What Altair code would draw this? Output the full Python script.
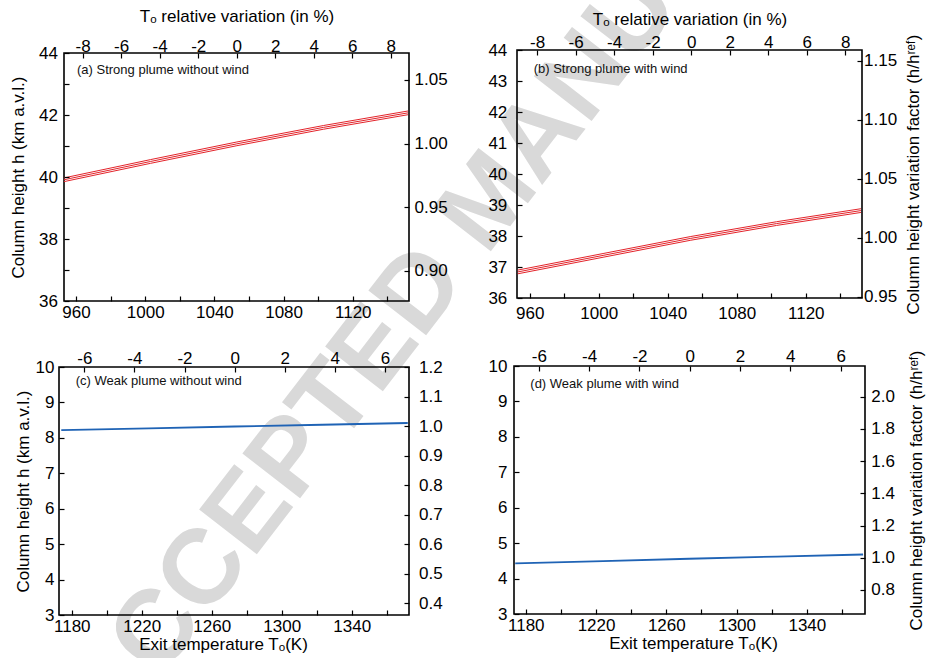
import altair as alt
import pandas as pd

FONT = "Liberation Sans"
RED = "#e3242b"
BLUE = "#1f63b5"
GREY = "#d9d9d9"
W, H = 926, 658

# exit temperatures T0 (K) at which the column height was computed
temp_strong = [953, 1003, 1053, 1103, 1152]
temp_weak = [1174, 1224, 1273, 1323, 1372]

# column height h (km a.v.l.); the strong plumes carry three runs each
h_strong_nowind = [
    [39.97, 40.56, 41.13, 41.66, 42.13],
    [39.91, 40.50, 41.07, 41.60, 42.07],
    [39.85, 40.44, 41.01, 41.54, 42.01],
]
h_strong_wind = [
    [36.90, 37.44, 37.98, 38.46, 38.88],
    [36.84, 37.38, 37.92, 38.40, 38.82],
    [36.78, 37.32, 37.86, 38.34, 38.76],
]
h_weak_nowind = [[8.22, 8.27, 8.32, 8.37, 8.42]]
h_weak_wind = [[4.43, 4.49, 4.56, 4.62, 4.68]]

# reference state behind the relative (top / right) axes
t_ref = {"a": 1053, "b": 1053, "c": 1273, "d": 1273}
h_ref = {"a": 41.1, "b": 37.95, "c": 8.33, "d": 4.55}

# axis extents
t_domain = {"a": [953.06, 1152.5], "b": [952.6, 1152.6], "c": [1172.7, 1372.7], "d": [1173.3, 1373.1]}
h_domain = {"a": [36, 44], "b": [36, 44], "c": [3, 10], "d": [3, 10]}
pct_domain = {"a": [-8.97, 8.95], "b": [-9.04, 8.87], "c": [-7.01, 6.96], "d": [-6.99, 6.97]}
ratio_domain = {"a": [0.8762, 1.0712], "b": [0.9489, 1.1593], "c": [0.3604, 1.2006], "d": [0.651, 2.1906]}

# tick values
t_ticks_strong = [960, 980, 1000, 1020, 1040, 1060, 1080, 1100, 1120, 1140]
t_ticks_weak = [1180, 1200, 1220, 1240, 1260, 1280, 1300, 1320, 1340, 1360]
h_ticks_strong = [36, 37, 38, 39, 40, 41, 42, 43, 44]
h_ticks_weak = [3, 4, 5, 6, 7, 8, 9, 10]
pct_ticks_strong = [-8, -6, -4, -2, 0, 2, 4, 6, 8]
pct_ticks_weak = [-6, -4, -2, 0, 2, 4, 6]
ratio_ticks = {
    "a": [0.90, 0.95, 1.00, 1.05],
    "b": [0.95, 1.00, 1.05, 1.10, 1.15],
    "c": [0.4, 0.5, 0.6, 0.7, 0.8, 0.9, 1.0, 1.1, 1.2],
    "d": [0.8, 1.0, 1.2, 1.4, 1.6, 1.8, 2.0],
}

captions = {
    "a": "(a) Strong plume without wind",
    "b": "(b) Strong plume with wind",
    "c": "(c) Weak plume without wind",
    "d": "(d) Weak plume with wind",
}
title_left = "Column height h (km a.v.l.)"
title_right = "Column height variation factor (h/h\u02b3\u1d49\u1da0)"
title_top = "T\u2092 relative variation (in %)"
title_bottom = "Exit temperature T\u2092(K)"
watermark_text = "ACCEPTED MANUSCRIPT"

# pixel frame of every panel and the spacing of its labels / titles
layout = {
    "a": dict(l=64, r=409, t=53, b=301, lp_l=6.5, lp_r=5, lp_t=-2, lp_b=3.2,
              tl=(30, 12), tr=(42, 6), tt=(20, 12.6), tb=(24, 2.5), cap=(77, 70.4)),
    "b": dict(l=517, r=862, t=50, b=298, lp_l=10.2, lp_r=1.5, lp_t=-1, lp_b=7.9,
              tl=(30, 12), tr=(42, 6.5), tt=(20, 6.3), tb=(24, 2.5), cap=(533.7, 69.4)),
    "c": dict(l=59, r=409, t=367, b=615, lp_l=5, lp_r=9.5, lp_t=0, lp_b=3.5,
              tl=(28, 4), tr=(42, 6), tt=(20, 6), tb=(24, 2.5), cap=(75.7, 381.4), tbx=223),
    "d": dict(l=514, r=865, t=366, b=614, lp_l=7, lp_r=5.8, lp_t=0.3, lp_b=3.5,
              tl=(30, 4), tr=(42, 6.2), tt=(20, 6), tb=(24, 2.9), cap=(530.3, 384), tbx=693),
}

panels = {
    "a": dict(runs=h_strong_nowind, temps=temp_strong, colour=RED, sw=1.0,
              left=True, right=False, top=True, bottom=False),
    "b": dict(runs=h_strong_wind, temps=temp_strong, colour=RED, sw=1.0,
              left=False, right=True, top=True, bottom=False),
    "c": dict(runs=h_weak_nowind, temps=temp_weak, colour=BLUE, sw=1.8,
              left=True, right=False, top=False, bottom=True),
    "d": dict(runs=h_weak_wind, temps=temp_weak, colour=BLUE, sw=1.8,
              left=False, right=True, top=False, bottom=True),
}


def axis(**kw):
    base = dict(grid=False, domain=False, tickSize=5, tickWidth=1.2, tickColor="black",
                labelFont=FONT, labelFontSize=17, labelColor="black", labelFlush=False,
                labelOverlap=False, labelBound=False, titleFont=FONT, titleFontSize=17,
                titleFontWeight="normal", titleColor="black", zindex=1)
    base.update(kw)
    return alt.Axis(**base)


def build(key):
    p, g = panels[key], layout[key]
    rows = []
    for i, run in enumerate(p["runs"]):
        for t, h in zip(p["temps"], run):
            rows.append({"T": t, "h": h, "run": i})
    df = pd.DataFrame(rows)

    strong = key in ("a", "b")
    t_ticks = t_ticks_strong if strong else t_ticks_weak
    first = t_ticks[0]
    h_ticks = h_ticks_strong if strong else h_ticks_weak
    pct_ticks = pct_ticks_strong if strong else pct_ticks_weak

    def x_scale():
        return alt.Scale(domain=t_domain[key], range=[g["l"], g["r"]], nice=False, zero=False)

    def y_scale():
        return alt.Scale(domain=h_domain[key], range=[g["b"], g["t"]], nice=False, zero=False)

    bottom_kw = dict(orient="bottom", values=t_ticks, format="d",
                     labelExpr=f"(datum.value - {first}) % 40 == 0 ? datum.label : ''",
                     offset=g["b"] - 5 - H, labelPadding=g["lp_b"],
                     minExtent=g["tb"][0], maxExtent=g["tb"][0], titlePadding=g["tb"][1],
                     title=title_bottom if p["bottom"] else None)
    if "tbx" in g and p["bottom"]:
        bottom_kw["titleX"] = g["tbx"]
    bottom_axis = axis(**bottom_kw)

    left_expr = "datum.value % 2 == 0 ? datum.label : ''" if key == "a" else "datum.label"
    left_axis = axis(orient="left", values=h_ticks, format="d", labelExpr=left_expr,
                     offset=-(g["l"] + 5), labelPadding=g["lp_l"],
                     minExtent=g["tl"][0], maxExtent=g["tl"][0], titlePadding=g["tl"][1],
                     title=title_left if p["left"] else None)

    # plot frame, drawn through the panel's own scales at the domain limits
    box = alt.Chart(alt.Data(values=[{}])).mark_rect(
        fillOpacity=0, stroke="black", strokeWidth=1.6
    ).encode(
        x=alt.XDatum(t_domain[key][0], scale=x_scale(), axis=None),
        x2=alt.X2Datum(t_domain[key][1]),
        y=alt.YDatum(h_domain[key][0], scale=y_scale(), axis=None),
        y2=alt.Y2Datum(h_domain[key][1]),
    )

    lines = alt.Chart(df).mark_line(color=p["colour"], strokeWidth=p["sw"]).encode(
        x=alt.X("T:Q", scale=x_scale(), axis=bottom_axis),
        y=alt.Y("h:Q", scale=y_scale(), axis=left_axis),
        detail="run:N",
    )

    cap = alt.Chart(alt.Data(values=[{}])).mark_text(
        align="left", baseline="middle", font=FONT, fontSize=13, color="#111111"
    ).encode(x=alt.value(g["cap"][0]), y=alt.value(g["cap"][1]), text=alt.value(captions[key]))

    top_axis = axis(orient="top", values=pct_ticks, format="d",
                    labelExpr="replace(datum.label, '\u2212', '-')",
                    offset=-(g["t"] + 5), labelPadding=g["lp_t"],
                    minExtent=g["tt"][0], maxExtent=g["tt"][0], titlePadding=g["tt"][1],
                    title=title_top if p["top"] else None)
    right_axis = axis(orient="right", values=ratio_ticks[key],
                      format=".2f" if strong else ".1f",
                      offset=g["r"] - 5 - W, labelPadding=g["lp_r"],
                      minExtent=g["tr"][0], maxExtent=g["tr"][0], titlePadding=g["tr"][1],
                      titleAngle=270, titleBaseline="top",
                      title=title_right if p["right"] else None)

    relative = alt.Chart(df).transform_calculate(
        pct=f"(datum.T - {t_ref[key]}) / {t_ref[key]} * 100",
        ratio=f"datum.h / {h_ref[key]}",
    ).mark_line(strokeOpacity=0).encode(
        x=alt.X("pct:Q", scale=alt.Scale(domain=pct_domain[key], range=[g["l"], g["r"]],
                                         nice=False, zero=False), axis=top_axis),
        y=alt.Y("ratio:Q", scale=alt.Scale(domain=ratio_domain[key], range=[g["b"], g["t"]],
                                           nice=False, zero=False), axis=right_axis),
        detail="run:N",
    )
    return [box, lines, cap, relative]


watermark = alt.Chart(alt.Data(values=[{}])).mark_text(
    angle=307.7, font=FONT, fontSize=106, fontWeight="bold", color=GREY,
    align="center", baseline="middle",
).encode(x=alt.value(490), y=alt.value(200), text=alt.value(watermark_text))

layers = [watermark]
for k in "abcd":
    layers += build(k)

chart = (
    alt.layer(*layers)
    .resolve_scale(x="independent", y="independent")
    .properties(width=W, height=H, padding=0, autosize=alt.AutoSizeParams(type="none"))
    .configure(font=FONT, background="white")
    .configure_view(strokeWidth=0)
)

chart.save("out.html", embed_options={"renderer": "svg", "actions": False})
